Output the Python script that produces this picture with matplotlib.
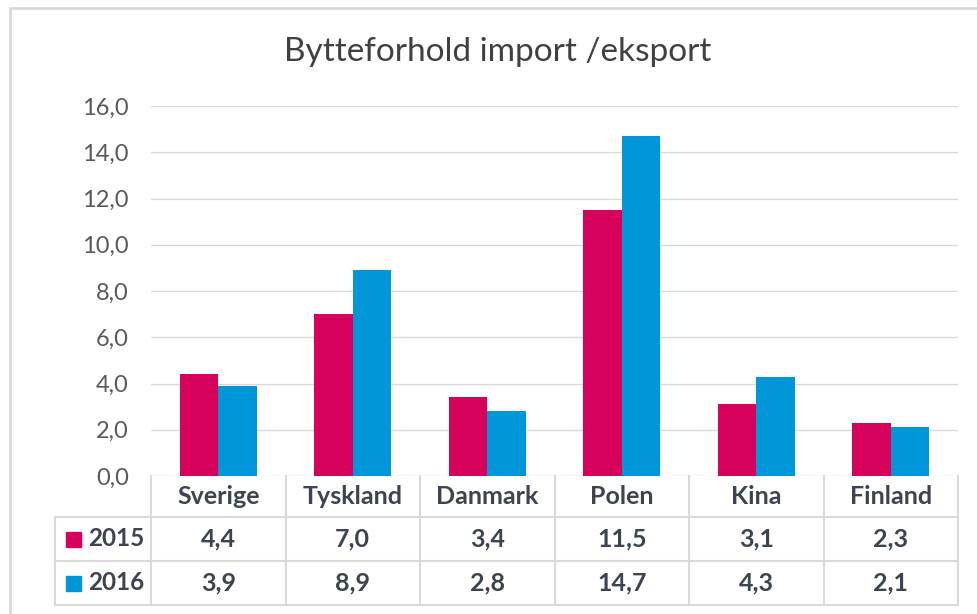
import numpy as np
import matplotlib.pyplot as plt
from matplotlib.patches import Rectangle

# data
countries = ['Sverige', 'Tyskland', 'Danmark', 'Polen', 'Kina', 'Finland']
years = ['2015', '2016']
values_2015 = [4.4, 7.0, 3.4, 11.5, 3.1, 2.3]
values_2016 = [3.9, 8.9, 2.8, 14.7, 4.3, 2.1]
y_ticks = [0, 2, 4, 6, 8, 10, 12, 14, 16]

W, H = 977, 614
red = '#d6015a'
blue = '#0096d7'
grid_col = '#d9d9d9'
text_col = '#3b4450'
tick_col = '#595959'

plt.rcParams['font.family'] = ['Lato', 'DejaVu Sans']

fig = plt.figure(figsize=(W / 100, H / 100), dpi=100)


def px_box(x0, y0, x1, y1):
    # pixel box (top-left origin) -> figure fraction [left, bottom, width, height]
    return [x0 / W, 1 - y1 / H, (x1 - x0) / W, (y1 - y0) / H]


# outer chart frame
fig.patches.append(Rectangle((10 / W, -0.1), 1.2, 1 - 8 / H + 0.1, transform=fig.transFigure,
                             fill=False, edgecolor=grid_col, linewidth=2))

# plot area
ax = fig.add_axes(px_box(151, 106, 958, 476))
x = np.arange(len(countries))
bw = 0.286
ax.bar(x - bw / 2, values_2015, bw, color=red, label=years[0], zorder=3)
ax.bar(x + bw / 2, values_2016, bw, color=blue, label=years[1], zorder=3)
ax.set_xlim(-0.5, len(countries) - 0.5)
ax.set_ylim(0, 16)
ax.set_yticks(y_ticks)
ax.set_yticklabels([f'{v:.1f}'.replace('.', ',') for v in y_ticks])
ax.set_xticks([])
ax.tick_params(axis='y', length=0, pad=16, labelsize=17, labelcolor=tick_col)
ax.grid(axis='y', color=grid_col, linewidth=1, zorder=0)
for s in ax.spines.values():
    s.set_visible(False)

fig.text(498 / W, 1 - 52 / H, 'Bytteforhold import /eksport', ha='center', va='center',
         fontsize=24, color='#404040')

# data table under the plot
tab = fig.add_axes(px_box(55, 476, 958, 606))
cat_px = (958 - 151) / len(countries)
tab.set_xlim(-0.5 - (151 - 55) / cat_px, len(countries) - 0.5)
tab.set_ylim(130, 0)
tab.axis('off')
rows = [0, 41, 85, 129]
left = -0.5 - (151 - 55) / cat_px
right = len(countries) - 0.5
lk = dict(color=grid_col, linewidth=1.5, clip_on=False)
for r in rows[1:]:
    tab.plot([left, right], [r, r], **lk)
for b in np.arange(-0.5, len(countries), 1.0):
    tab.plot([b, b], [0, rows[-1]], **lk)
tab.plot([left, left], [rows[1], rows[-1]], **lk)

for i, c in enumerate(countries):
    tab.text(i, (rows[0] + rows[1]) / 2, c, ha='center', va='center', fontsize=18,
             fontweight='bold', color=text_col)
for j, (yr, vals, col) in enumerate([(years[0], values_2015, red), (years[1], values_2016, blue)]):
    yc = (rows[j + 1] + rows[j + 2]) / 2
    for i, v in enumerate(vals):
        tab.text(i, yc, f'{v:.1f}'.replace('.', ','), ha='center', va='center', fontsize=18,
                 fontweight='bold', color=text_col)
    kx = left + 11 / cat_px
    tab.add_patch(Rectangle((kx, yc - 7.5), 15 / cat_px, 15, color=col))
    tab.text(left + 33 / cat_px, yc, yr, ha='left', va='center', fontsize=17.5,
             fontweight='bold', color=text_col)

fig.savefig('out.png', dpi=100)
